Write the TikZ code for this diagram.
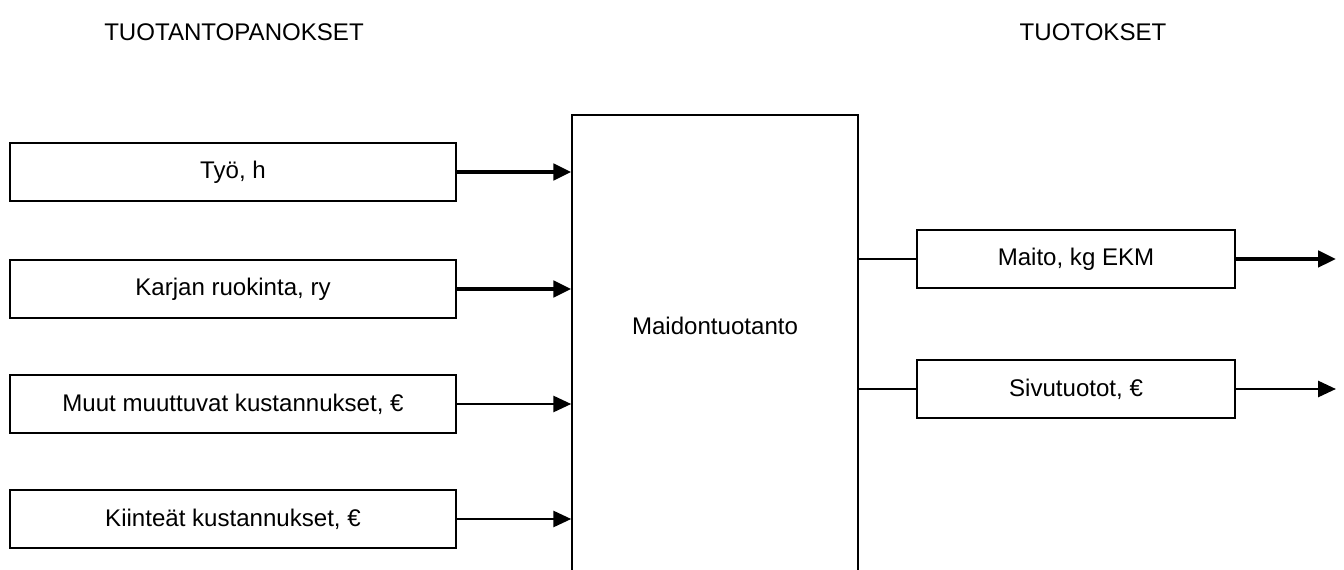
\documentclass[tikz,border=0pt]{standalone}
\usepackage{fontspec}
\setmainfont{Liberation Sans}
\usetikzlibrary{arrows.meta, positioning, calc}

\begin{document}
\begin{tikzpicture}[
		x=0.02cm, y=-0.02cm,
		font=\fontsize{13.7}{16.4}\selectfont,
		inBox/.style={rectangle, draw=black, line width=0.75pt, minimum width=8.92cm, minimum height=1.16cm, inner sep=0pt},
		outBox/.style={rectangle, draw=black, line width=0.75pt, minimum width=6.36cm, minimum height=1.16cm, inner sep=0pt},
		prodBox/.style={rectangle, draw=black, line width=0.85pt, minimum width=5.72cm, minimum height=10.1cm, inner sep=0pt},
		headText/.style={inner sep=0pt},
		boldArrow/.style={-{Triangle[length=0.36cm, width=0.32cm]}, line width=2.6pt},
		thinArrow/.style={-{Triangle[length=0.36cm, width=0.32cm]}, line width=1.6pt},
		link/.style={line width=0.6pt}
		]

		\useasboundingbox (0,0) rectangle (1344,570);
		\clip (0,0) rectangle (1344,570);

		% Otsikot
		\node[headText] (inHead) at (234,32) {TUOTANTOPANOKSET};
		\node[headText] (outHead) at (1093,32) {TUOTOKSET};

		% Solmut
		\node[prodBox] (prod) at (715,367.5) {};
		\node (prodText) at (715,326) {Maidontuotanto};

		\node[inBox] (work) at (233,172) {Työ, h};
		\node[inBox] (feed) at (233,289) {Karjan ruokinta, ry};
		\node[inBox] (varCost) at (233,404) {Muut muuttuvat kustannukset, €};
		\node[inBox] (fixCost) at (233,519) {Kiinteät kustannukset, €};

		\node[outBox] (milk) at (1076,259) {Maito, kg EKM};
		\node[outBox] (side) at (1076,389) {Sivutuotot, €};

		\coordinate (milkEnd) at (1336,259);
		\coordinate (sideEnd) at (1336,389);

		% Nuolet
		\draw[boldArrow] (work.east) -- (work.east -| prod.west);
		\draw[boldArrow] (feed.east) -- (feed.east -| prod.west);
		\draw[thinArrow] (varCost.east) -- (varCost.east -| prod.west);
		\draw[thinArrow] (fixCost.east) -- (fixCost.east -| prod.west);

		\draw[link] (milk.west -| prod.east) -- (milk.west);
		\draw[link] (side.west -| prod.east) -- (side.west);

		\draw[boldArrow] (milk.east) -- (milkEnd);
		\draw[thinArrow] (side.east) -- (sideEnd);

	\end{tikzpicture}
\end{document}
